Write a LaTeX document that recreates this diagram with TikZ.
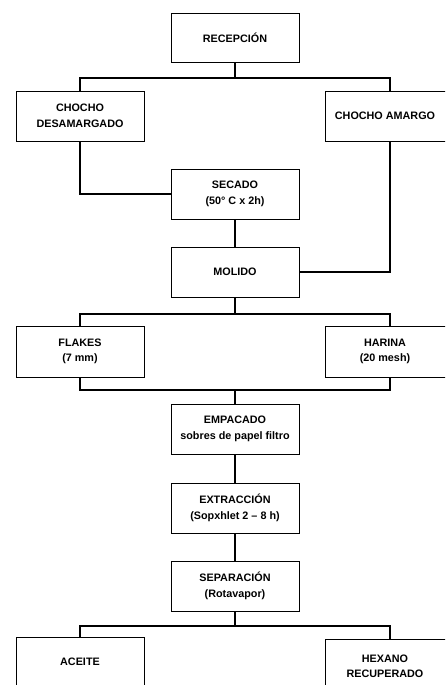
\documentclass[tikz,border=0pt]{standalone}
\usepackage{fontspec}
\setmainfont{Liberation Sans}
\begin{document}
\begin{tikzpicture}[x=1pt,y=-1pt,
  box/.style={draw=black,line width=0.8pt,rectangle,minimum width=128pt,minimum height=50pt,inner sep=2pt,align=center,font=\fontsize{10.8}{15.5}\selectfont\bfseries},
  conn/.style={draw=black,line width=2pt}]
\useasboundingbox (0,0) rectangle (445,685);
\clip (0,0) rectangle (445,685);
\node[box,minimum height=49pt] (rec) at (235,37.5) {RECEPCIÓN};
\node[box] (des) at (80,116) {CHOCHO\\DESAMARGADO};
\node[box,minimum width=130pt] (ama) at (390,116) {\hspace*{-10pt}CHOCHO AMARGO};
\node[box] (sec) at (235,194) {SECADO\\(50° C x 2h)};
\node[box] (mol) at (235,272) {MOLIDO};
\node[box,minimum height=51pt] (fla) at (80,351.5) {FLAKES\\(7 mm)};
\node[box,minimum width=130pt,minimum height=51pt] (har) at (390,351.5) {\hspace*{-10pt}HARINA\\\hspace*{-10pt}(20 mesh)};
\node[box] (emp) at (235,429) {EMPACADO\\sobres de papel filtro};
\node[box] (ext) at (235,508) {EXTRACCIÓN\\(Sopxhlet 2 – 8 h)};
\node[box] (sep) at (235,586) {SEPARACIÓN\\(Rotavapor)};
\node[box] (ace) at (80,662) {ACEITE};
\node[box,minimum width=130pt,minimum height=55pt] (hex) at (390,666.5) {\hspace*{-10pt}HEXANO\\\hspace*{-10pt}RECUPERADO};
\coordinate (j1) at (235,78);
\coordinate (j2) at (235,314);
\coordinate (j3) at (235,390);
\coordinate (j4) at (235,626);
\draw[conn] (rec.south) -- (j1);
\draw[conn] (des.north) |- (j1) -| (ama.north);
\draw[conn] (des.south) |- (sec.west);
\draw[conn] (ama.south) |- (mol.east);
\draw[conn] (sec.south) -- (mol.north);
\draw[conn] (mol.south) -- (j2);
\draw[conn] (fla.north) |- (j2) -| (har.north);
\draw[conn] (fla.south) |- (j3) -| (har.south);
\draw[conn] (j3) -- (emp.north);
\draw[conn] (emp.south) -- (ext.north);
\draw[conn] (ext.south) -- (sep.north);
\draw[conn] (sep.south) -- (j4);
\draw[conn] (ace.north) |- (j4) -| (hex.north);
\end{tikzpicture}
\end{document}
